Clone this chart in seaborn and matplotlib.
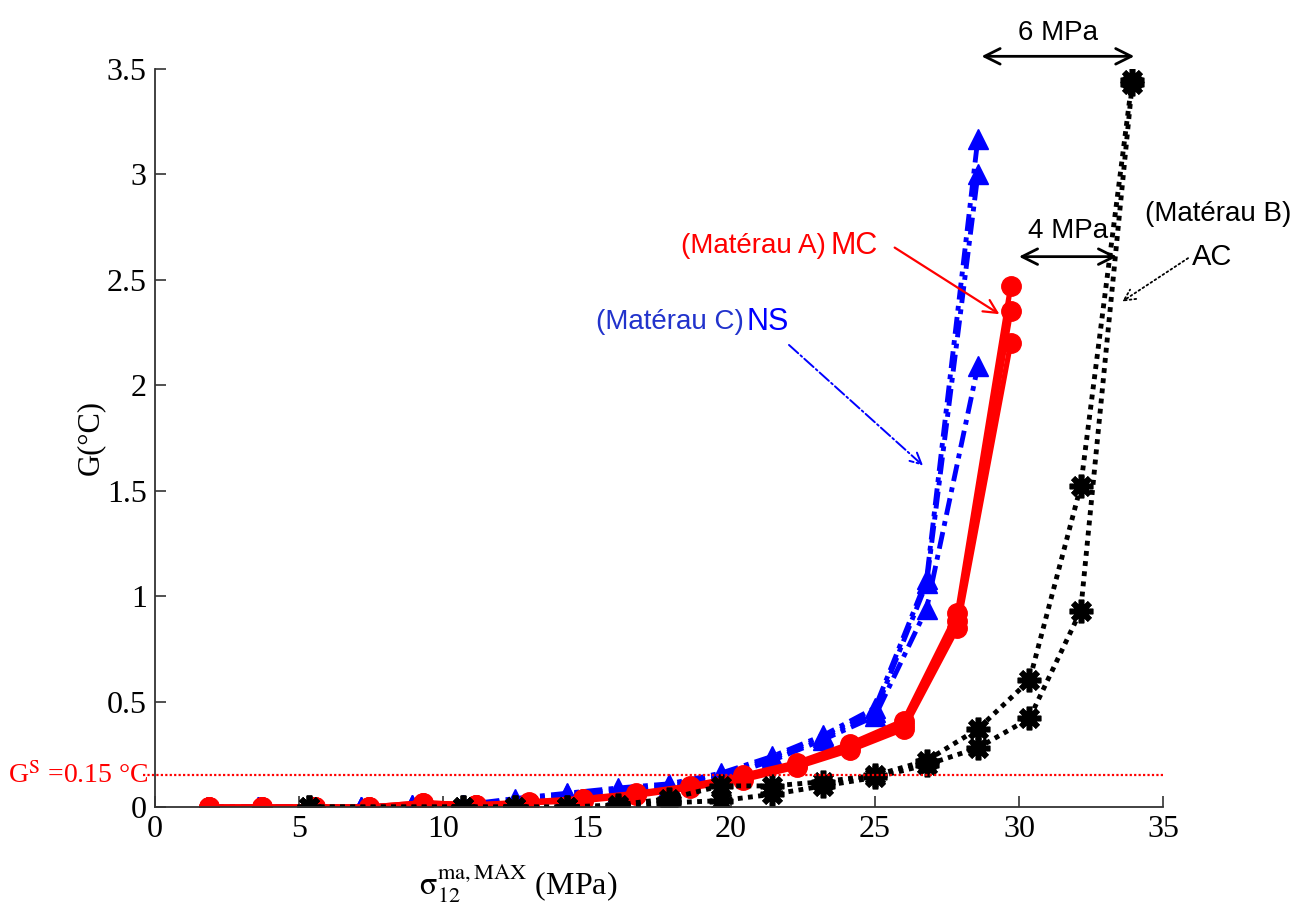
import pandas as pd
import numpy as np
import seaborn as sns
import matplotlib.pyplot as plt

# Materiau C (NS) - triangles bleus
x_C = [1.79, 3.57, 5.36, 7.14, 8.93, 10.71, 12.50, 14.29, 16.07, 17.86, 19.64, 21.43, 23.21, 25.00, 26.79, 28.57]
G_C1 = [0, 0, 0, 0, 0.01, 0.01, 0.04, 0.065, 0.09, 0.11, 0.16, 0.24, 0.34, 0.47, 1.08, 3.17]
G_C2 = [0, 0, 0, 0, 0.01, 0.01, 0.03, 0.06, 0.08, 0.10, 0.15, 0.23, 0.33, 0.45, 1.06, 3.00]
G_C3 = [0, 0, 0, 0, 0.00, 0.01, 0.02, 0.05, 0.07, 0.09, 0.14, 0.22, 0.32, 0.43, 0.94, 2.09]

# Materiau A (MC) - cercles rouges
x_A = [1.86, 3.71, 5.57, 7.43, 9.29, 11.14, 13.00, 14.86, 16.71, 18.57, 20.43, 22.29, 24.14, 26.00, 27.86, 29.71]
G_A1 = [0, 0, 0, 0, 0.02, 0.01, 0.025, 0.04, 0.065, 0.10, 0.15, 0.21, 0.30, 0.41, 0.92, 2.47]
G_A2 = [0, 0, 0, 0, 0.02, 0.01, 0.02, 0.04, 0.06, 0.095, 0.14, 0.20, 0.29, 0.39, 0.88, 2.35]
G_A3 = [0, 0, 0, 0, 0.01, 0.01, 0.02, 0.03, 0.055, 0.09, 0.13, 0.19, 0.27, 0.37, 0.85, 2.20]

# Materiau B (AC) - etoiles noires
x_B = [5.36, 10.71, 12.50, 14.29, 16.07, 17.86, 19.64, 21.43, 23.21, 25.00, 26.79, 28.57, 30.36, 32.14, 33.93]
G_B1 = [0, 0, 0, 0, 0.01, 0.04, 0.10, 0.10, 0.12, 0.15, 0.22, 0.37, 0.60, 1.52, 3.45]
G_B2 = [0, 0, 0, 0, 0.00, 0.02, 0.03, 0.06, 0.10, 0.14, 0.20, 0.28, 0.42, 0.93, 3.43]

# seuil
G_S = 0.15

x_ticks = [0, 5, 10, 15, 20, 25, 30, 35]
y_ticks = [0, 0.5, 1, 1.5, 2, 2.5, 3, 3.5]
y_tick_labels = ['0', '0.5', '1', '1.5', '2', '2.5', '3', '3.5']


def long_df(x, series):
    frames = []
    for i, g in enumerate(series):
        frames.append(pd.DataFrame({'x': x, 'G': g, 'run': i}))
    return pd.concat(frames, ignore_index=True)


df_C = long_df(x_C, [G_C1, G_C2, G_C3])
df_A = long_df(x_A, [G_A1, G_A2, G_A3])
df_B = long_df(x_B, [G_B1, G_B2])

sns.set_style('ticks')
plt.rcParams['font.family'] = ['Liberation Serif', 'DejaVu Serif']
plt.rcParams['mathtext.fontset'] = 'stix'
plt.rcParams['text.color'] = 'black'
plt.rcParams['axes.labelcolor'] = 'black'

fig = plt.figure(figsize=(13.04, 9.16), dpi=100)
ax = fig.add_axes([0.1189, 0.119, 0.773, 0.8057])

# courbes
sns.lineplot(data=df_C, x='x', y='G', units='run', estimator=None, ax=ax,
             color='blue', lw=3.5, linestyle=(0, (3.5, 1.3, 1, 1.3)),
             marker='^', markersize=14, markeredgecolor='blue', markeredgewidth=1)
sns.lineplot(data=df_A, x='x', y='G', units='run', estimator=None, ax=ax,
             color='red', lw=3.8, linestyle='-',
             marker='o', markersize=14, markeredgecolor='red', markeredgewidth=1)
sns.lineplot(data=df_B, x='x', y='G', units='run', estimator=None, ax=ax,
             color='black', lw=3.5, linestyle=(0, (1, 1.1)),
             marker=(8, 2, 0), markersize=17, markeredgecolor='black', markeredgewidth=4)

# ligne de seuil
ax.axhline(G_S, xmin=-0.012, xmax=1.0, color='red', lw=1.6, linestyle=(0, (1, 1)), clip_on=False)
ax.text(-0.006, G_S, r'G$^{\rm S}$ =0.15 °C', transform=ax.get_yaxis_transform(),
        ha='right', va='center', color='red', fontsize=20)

# axes
ax.set_xlim(0, 35)
ax.set_ylim(0, 3.5)
ax.set_xticks(x_ticks)
ax.set_xticklabels([str(t) for t in x_ticks])
ax.set_yticks(y_ticks)
ax.set_yticklabels(y_tick_labels)
ax.tick_params(direction='in', length=8, width=1.2, labelsize=23, pad=6,
               color='#333333', labelcolor='black')
sns.despine(ax=ax)
for s in ['left', 'bottom']:
    ax.spines[s].set_linewidth(1.3)
    ax.spines[s].set_color('#333333')

ax.set_xlabel(r'$\mathrm{\sigma}_{12}^{\mathrm{ma,MAX}}$ (MPa)', fontsize=23)
ax.xaxis.set_label_coords(0.36, -0.075)
ax.set_ylabel('G(°C)', fontsize=22)
ax.yaxis.set_label_coords(-0.05, 0.5)

sans = ['Liberation Sans', 'DejaVu Sans']

# annotations
ax.annotate('', xy=(34.1, 3.56), xytext=(28.6, 3.56), annotation_clip=False,
            arrowprops=dict(arrowstyle='<->', lw=2, color='black', mutation_scale=28))
ax.text(31.35, 3.67, '6 MPa', ha='center', va='center', fontsize=20, family=sans)

ax.annotate('', xy=(33.5, 2.61), xytext=(29.9, 2.61), annotation_clip=False,
            arrowprops=dict(arrowstyle='<->', lw=2, color='black', mutation_scale=28))
ax.text(31.7, 2.73, '4 MPa', ha='center', va='center', fontsize=20, family=sans)

ax.text(36.9, 2.81, '(Matérau B)', ha='center', va='center', fontsize=20, family=sans)
ax.text(36.7, 2.61, 'AC', ha='center', va='center', fontsize=21, family=sans)
ax.annotate('', xy=(33.5, 2.39), xytext=(35.95, 2.61), annotation_clip=False,
            arrowprops=dict(arrowstyle='->', lw=1.3, color='black', linestyle=':',
                            mutation_scale=20))

ax.text(23.3, 2.66, '(Matérau A)', ha='right', va='center', fontsize=20, color='red', family=sans)
ax.text(23.45, 2.66, 'MC', ha='left', va='center', fontsize=22, color='red', family=sans)
ax.annotate('', xy=(29.4, 2.33), xytext=(25.6, 2.66), annotation_clip=False,
            arrowprops=dict(arrowstyle='->', lw=1.6, color='red', mutation_scale=24))

ax.text(15.3, 2.30, '(Matérau C)', ha='left', va='center', fontsize=20, color='#2233cc', family=sans)
ax.text(20.55, 2.30, 'NS', ha='left', va='center', fontsize=22, color='blue', family=sans)
ax.annotate('', xy=(26.74, 1.61), xytext=(21.94, 2.2), annotation_clip=False,
            arrowprops=dict(arrowstyle='->', lw=1.4, color='blue', linestyle='-.',
                            mutation_scale=20))

fig.savefig('out.png', dpi=100)
